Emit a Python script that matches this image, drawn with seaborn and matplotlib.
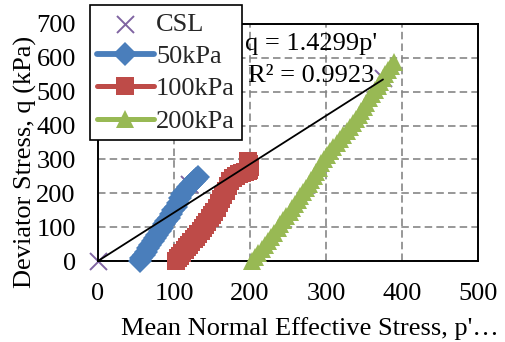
import matplotlib
matplotlib.use("Agg")
import matplotlib.pyplot as plt
import seaborn as sns

# ---- data ----
csl_p = [0, 120, 198, 375]
csl_q = [0, 228, 285, 540]

p50 = [55, 57, 60, 63, 66, 69, 72, 75, 78, 81, 84, 87, 90, 93, 96, 99, 102, 105,
       108, 111, 114, 118, 122, 126, 129, 131]
q50 = [0, 8, 18, 28, 38, 48, 58, 68, 78, 88, 98, 108, 118, 128, 138, 150, 160, 172,
       185, 198, 208, 218, 228, 236, 243, 248]

p100 = [102, 105, 108, 111, 114, 117, 120, 123, 126, 129, 132, 135, 138, 141, 144,
        147, 150, 153, 156, 159, 162, 165, 168, 171, 174, 177, 181, 185, 189, 193,
        197, 199, 200, 199, 197]
q100 = [0, 8, 16, 24, 32, 40, 48, 56, 64, 72, 80, 88, 96, 106, 116, 126, 136, 146,
        158, 170, 182, 195, 208, 222, 235, 246, 252, 256, 259, 262, 265, 270, 278,
        287, 295]

p200 = [203, 207, 211, 216, 220, 224, 228, 232, 237, 240, 244, 248, 252, 255, 259,
        263, 266, 270, 274, 277, 280, 284, 287, 291, 294, 298, 301, 305, 309, 314,
        318, 323, 327, 332, 336, 339, 343, 346, 350, 353, 357, 360, 364, 368, 371,
        375, 378, 382, 386, 389]
q200 = [0, 12, 24, 36, 48, 60, 72, 84, 96, 108, 120, 132, 144, 156, 168, 180, 192,
        204, 216, 228, 240, 252, 264, 276, 288, 300, 312, 324, 336, 348, 360, 372,
        384, 396, 408, 420, 432, 444, 456, 468, 480, 492, 504, 516, 528, 540, 552,
        564, 576, 588]

csl_slope = 1.4299
csl_r2 = 0.9923

x_ticks = [0, 100, 200, 300, 400, 500]
y_ticks = [0, 100, 200, 300, 400, 500, 600, 700]

series_labels = ["CSL", "50kPa", "100kPa", "200kPa"]
x_label = "Mean Normal Effective Stress, p'\u2026"
y_label = "Deviator Stress, q (kPa)"

# ---- style ----
sns.set_theme(style="white")
plt.rcParams['font.family'] = ['Liberation Serif', 'DejaVu Serif']
FS = 19
C_CSL = '#8064A2'
C_50 = '#4A7EBB'
C_100 = '#BE4B48'
C_200 = '#98B954'

fig = plt.figure(figsize=(5.05, 3.42), dpi=100)
W, H = 505, 342
ax = fig.add_axes([98 / W, 1 - 261 / H, 380 / W, 237 / H])

sns.scatterplot(x=csl_p, y=csl_q, marker='x', s=150, color=C_CSL,
                linewidth=1.4, label=series_labels[0], ax=ax, zorder=2, clip_on=False)

for px, qy, lab, col, mk, ms, lw in [
    (p50, q50, series_labels[1], C_50, 'D', 12, 4.2),
    (p100, q100, series_labels[2], C_100, 's', 13, 3.6),
    (p200, q200, series_labels[3], C_200, '^', 13, 3.6),
]:
    sns.lineplot(x=px, y=qy, sort=False, estimator=None, color=col, lw=lw,
                 marker=mk, markersize=ms, markeredgewidth=0, markeredgecolor=col,
                 label=lab, ax=ax, zorder=3, clip_on=False)

tx = [0, max(csl_p)]
ty = [csl_slope * v for v in tx]
sns.lineplot(x=tx, y=ty, color='black', lw=1.3, legend=False, ax=ax, zorder=6)

ax.set_xlim(x_ticks[0], x_ticks[-1])
ax.set_ylim(y_ticks[0], y_ticks[-1])
ax.set_xticks(x_ticks)
ax.set_yticks(y_ticks)
ax.tick_params(length=0, pad=16, labelsize=FS, colors='black')
ax.set_axisbelow(True)
ax.grid(True, color='#868686', ls=(0, (4.5, 2.5)), lw=1.2)
for s in ax.spines.values():
    s.set_visible(True)
    s.set_color('black')
    s.set_linewidth(1.4)

ax.set_xlabel(x_label, fontsize=FS, color='black')
ax.xaxis.set_label_coords(0.558, -0.236)
ax.set_ylabel(y_label, fontsize=FS, color='black')
ax.yaxis.set_label_coords(-0.16, 0.418)

ax.text(0.562, 0.890, f"q = {csl_slope:.4f}p'", transform=ax.transAxes,
        ha='center', va='baseline', fontsize=FS, color='black', zorder=7)
ax.text(0.562, 0.755, f"R\u00b2 = {csl_r2:.4f}", transform=ax.transAxes,
        ha='center', va='baseline', fontsize=FS, color='black', zorder=7)

handles, labels = ax.get_legend_handles_labels()
leg = ax.legend(handles, labels, loc='upper left',
                bbox_to_anchor=(90 / W, 1 - 5 / H), bbox_transform=fig.transFigure,
                borderaxespad=0, frameon=True, fancybox=False, framealpha=1,
                edgecolor='black', fontsize=FS, handlelength=2.15,
                handletextpad=0.08, labelspacing=0.34, borderpad=0.27)
leg.get_frame().set_linewidth(1.2)
leg.set_zorder(10)

fig.savefig("out.png", dpi=100)
